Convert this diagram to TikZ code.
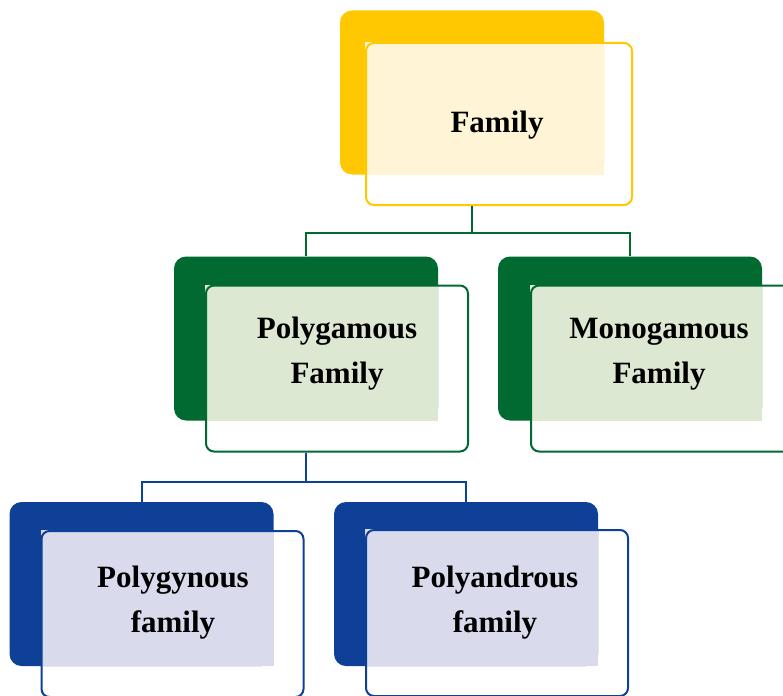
\documentclass[tikz,border=0pt]{standalone}
\usepackage{fontspec}
\setmainfont{Liberation Serif}
\usepackage{tikz}
\usetikzlibrary{positioning}
\pgfdeclarelayer{background}
\pgfsetlayers{background,main}
\definecolor{famyellow}{RGB}{255,200,0}
\definecolor{famcream}{RGB}{255,245,214}
\definecolor{famgreen}{RGB}{0,106,48}
\definecolor{famsage}{RGB}{220,232,210}
\definecolor{famblue}{RGB}{14,64,152}
\definecolor{famlilac}{RGB}{217,218,235}

\begin{document}
\begin{tikzpicture}[x=1pt,y=-1pt,
      back/.style={rounded corners=12pt,inner sep=0pt,
                   minimum width=264pt,minimum height=164pt},
      front/.style={draw,line width=2pt,rounded corners=8pt,inner sep=0pt,
                    minimum width=262pt,minimum height=166pt},
      boxtext/.style={align=center,inner sep=0pt,
                      font=\fontsize{31}{45}\selectfont\bfseries},
      link/.style={line width=2pt}
  ]
    \useasboundingbox (0,0) rectangle (783,695);

    % solid boxes behind
    \begin{pgfonlayer}{background}
      \node[back,fill=famyellow] (fam)  at (472,92.5) {};
      \node[back,fill=famgreen]  (poly) at (306,338.5) {};
      \node[back,fill=famgreen]  (mono) at (630,338.5) {};
      \node[back,fill=famblue]   (gyn)  at (141.5,584) {};
      \node[back,fill=famblue]   (andr) at (466,584) {};
    \end{pgfonlayer}

    % outlined boxes in front
    \node[front,draw=famyellow,minimum width=266pt,minimum height=162pt] (famfront) at (499,124) {};
    \node[front,draw=famgreen] (polyfront) at ([xshift=31pt,yshift=-30pt]poly.center) {};
    \node[front,draw=famgreen] (monofront) at ([xshift=32pt,yshift=-30pt]mono.center) {};
    \node[front,draw=famblue]  (gynfront)  at ([xshift=31pt,yshift=-30pt]gyn.center) {};
    \node[front,draw=famblue]  (andrfront) at ([xshift=31pt,yshift=-29pt]andr.center) {};

    % light panels where the two boxes overlap
    \begin{pgfonlayer}{background}
      \fill[famcream] (famfront.north west)  rectangle (fam.south east);
      \fill[famsage]  (polyfront.north west) rectangle (poly.south east);
      \fill[famsage]  (monofront.north west) rectangle (mono.south east);
      \fill[famlilac] (gynfront.north west)  rectangle (gyn.south east);
      \fill[famlilac] (andrfront.north west) rectangle (andr.south east);
    \end{pgfonlayer}

    \node[boxtext] (famtext)  at (497,125.5) {Family};
    \node[boxtext] (polytext) at (337,354) {Polygamous\\Family};
    \node[boxtext] (monotext) at (659,354) {Monogamous\\Family};
    \node[boxtext] (gyntext)  at (173,603) {Polygynous\\family};
    \node[boxtext] (andrtext) at (495,603) {Polyandrous\\family};

    % connectors
    \coordinate (famjoin)  at (472,233);
    \coordinate (polyjoin) at (306,482);
    \draw[link,famgreen] (famfront.south -| fam.south) -- (famjoin);
    \draw[link,famgreen] (poly.north) |- (famjoin) -| (mono.north);
    \draw[link,famblue] (polyfront.south -| poly.south) -- (polyjoin);
    \draw[link,famblue] (gyn.north) |- (polyjoin) -| (andr.north);
  \end{tikzpicture}
\end{document}
